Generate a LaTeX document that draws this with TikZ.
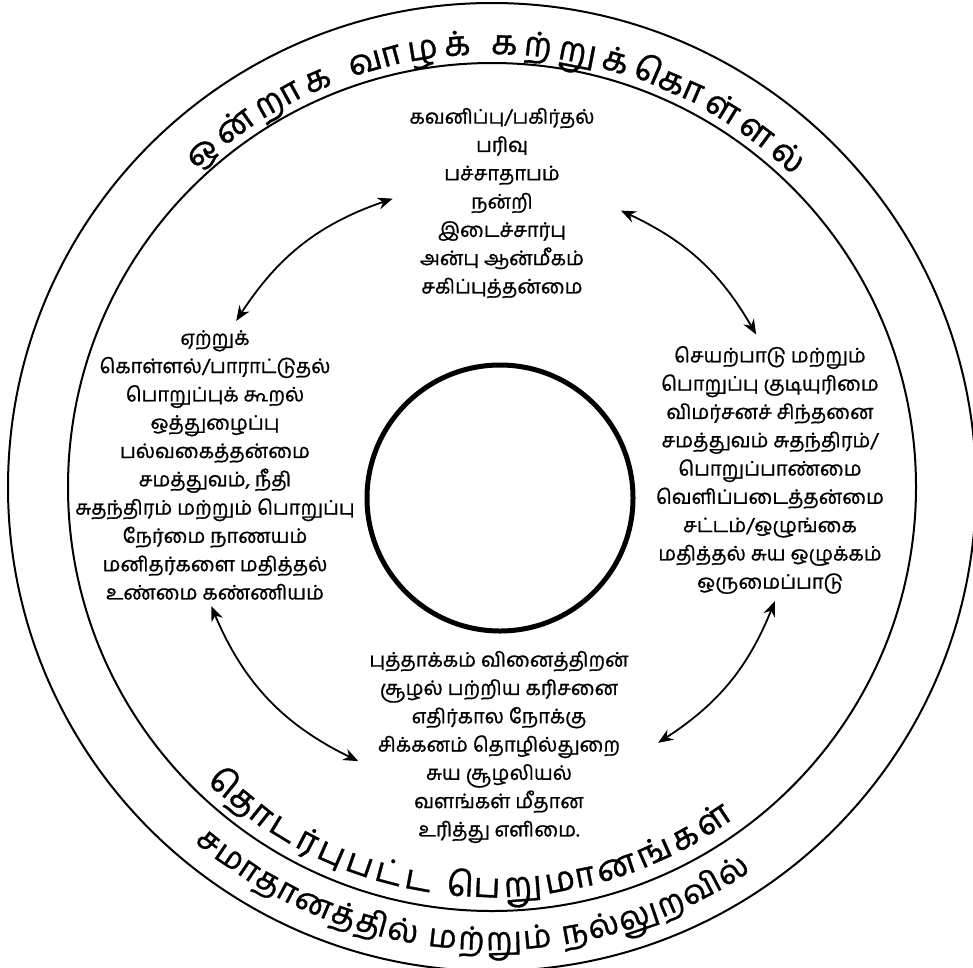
\documentclass[tikz,border=0pt]{standalone}
\usepackage{fontspec}
\newfontfamily\tamilfont[Script=Tamil, FakeBold=1]{Hind Madurai}
\usetikzlibrary{arrows.meta, positioning, calc, decorations.text}

\newcommand\ringfont{\tamilfont\fontsize{34}{38}\selectfont}
\newcommand\lowringfont{\tamilfont\fontsize{32}{36}\selectfont}

\tikzset{
  ring/.style={draw=black, line width=2pt},
  core/.style={draw=black, line width=5pt},
  valuelist/.style={align=center, inner sep=0pt, font=\tamilfont\fontsize{20}{28.3}\selectfont},
  twoway/.style={{Stealth[length=15pt,width=12pt]}-{Stealth[length=15pt,width=12pt]}, line width=1.8pt},
}

\begin{document}
\begin{tikzpicture}[x=1pt, y=1pt]
  \useasboundingbox (0,0) rectangle (973,-967);
  \coordinate (c) at (492,-487);

  % the three circles
  \draw[ring] (c) circle[radius=484];
  \draw[ring] (c) circle[radius=424];
  \draw[core] (500,-498) circle[radius=133];

  % value lists
  \node[valuelist] (kindness) at (502,-203) {கவனிப்பு/பகிர்தல்\\பரிவு\\பச்சாதாபம்\\நன்றி\\இடைச்சார்பு\\அன்பு ஆன்மீகம்\\சகிப்புத்தன்மை};
  \node[valuelist] (justice) at (215,-465) {ஏற்றுக்\\கொள்ளல்/பாராட்டுதல்\\பொறுப்புக் கூறல்\\ஒத்துழைப்பு\\பல்வகைத்தன்மை\\சமத்துவம், நீதி\\சுதந்திரம் மற்றும் பொறுப்பு\\நேர்மை நாணயம்\\மனிதர்களை மதித்தல்\\உண்மை கண்ணியம்};
  \node[valuelist] (civic) at (770,-470) {செயற்பாடு மற்றும்\\பொறுப்பு குடியுரிமை\\விமர்சனச் சிந்தனை\\சமத்துவம் சுதந்திரம்/\\பொறுப்பாண்மை\\வெளிப்படைத்தன்மை\\சட்டம்/ஒழுங்கை\\மதித்தல் சுய ஒழுக்கம்\\ஒருமைப்பாடு};
  \node[valuelist] (sustain) at (499,-747) {புத்தாக்கம் வினைத்திறன்\\சூழல் பற்றிய கரிசனை\\எதிர்கால நோக்கு\\சிக்கனம் தொழில்துறை\\சுய சூழலியல்\\வளங்கள் மீதான\\உரித்து எளிமை.};

  % arrow ends
  \coordinate (kindness-w) at ($(c)+(109:305)$);
  \coordinate (justice-n) at ($(c)+(147:305)$);
  \coordinate (civic-n) at ($(c)+(30:305)$);
  \coordinate (kindness-e) at ($(c)+(65:305)$);
  \coordinate (sustain-e) at ($(c)+(-57:305)$);
  \coordinate (civic-s) at ($(c)+(-22:305)$);
  \coordinate (justice-s) at ($(c)+(203:305)$);
  \coordinate (sustain-w) at ($(c)+(244:305)$);

  \draw[twoway] (kindness-w) to[bend right=19] (justice-n);
  \draw[twoway] (civic-n) to[bend right=17.5] (kindness-e);
  \draw[twoway] (sustain-e) to[bend right=17.5] (civic-s);
  \draw[twoway] (justice-s) to[bend right=20.5] (sustain-w);

  % ring captions
  \path[decorate, decoration={text along path, text align=fit to path,
      text={|\ringfont|{ஒ}{ன்}{றா}{க} {வா}{ழ}{க்} {க}{ற்}{று}{க்}{கொ}{ள்}{ள}{{ல்}}}}]
    ($(c)+(133:433)$) arc[start angle=133, end angle=46, radius=433];
  \path[decorate, decoration={text along path, text align=fit to path,
      text={|\lowringfont|{ச}{மா}{தா}{ன}{த்}{தி}{ல்} {ம}{ற்}{று}{ம்} {ந}{ல்}{லு}{ற}{வி}{{ல்}}}}]
    ($(c)+(230:463)$) arc[start angle=230, end angle=304, radius=463];
  \path[decorate, decoration={text along path, text align=fit to path,
      text={|\ringfont|{தொ}{ட}{ர்}{பு}{ப}{ட்}{ட} {பெ}{று}{மா}{ன}{ங்}{க}{{ள்}}}}]
    ($(c)+(226:410)$) arc[start angle=226, end angle=306, radius=410];
\end{tikzpicture}
\end{document}
